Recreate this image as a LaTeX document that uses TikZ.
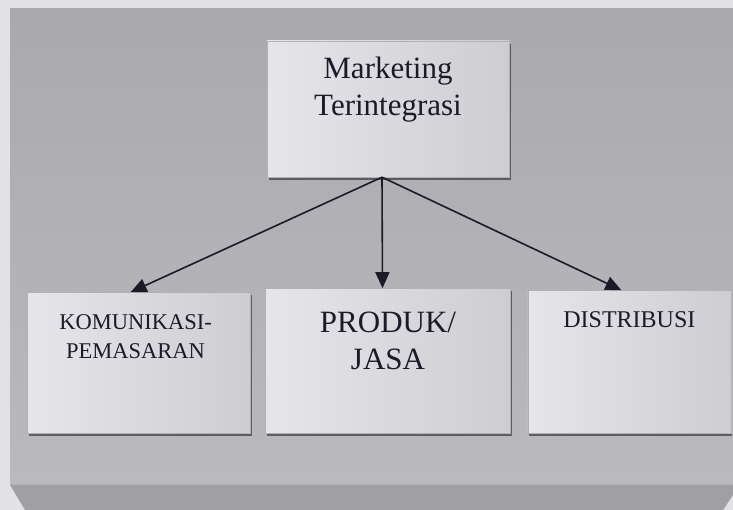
\documentclass[tikz,border=0pt]{standalone}
\usepackage{fontspec}
\setmainfont{Liberation Serif}
\usepackage{tikz}
\usetikzlibrary{arrows.meta, positioning, shadows, calc}
\definecolor{outerbg}{RGB}{226,226,230}
\definecolor{panelgray}{RGB}{186,186,190}
\definecolor{paneldark}{RGB}{170,170,174}
\definecolor{bevelgray}{RGB}{160,160,164}
\definecolor{boxlight}{RGB}{230,230,234}
\definecolor{boxdark}{RGB}{206,206,210}
\definecolor{inkblue}{RGB}{26,26,40}

\begin{document}
\begin{tikzpicture}[
    x=1pt, y=1pt,
    cardbox/.style  = {draw=gray!60, line width=0.4pt,
                       left color=boxlight, right color=boxdark,
                       drop shadow={shadow xshift=1.5pt, shadow yshift=-3pt,
                                    fill=black!75, opacity=0.75}},
    topbox/.style   = {cardbox, minimum width=242pt, minimum height=136pt},
    bigtext/.style  = {font=\fontsize{31}{37}\selectfont, text=inkblue,
                       align=center, inner sep=0pt},
    captext/.style  = {font=\fontsize{22.5}{29}\selectfont, text=inkblue,
                       align=center, inner sep=0pt},
    arr/.style      = {-{Triangle[length=16pt, width=14pt]}, line width=1.6pt, draw=inkblue},
]
\useasboundingbox (0,0) rectangle (733,510);

% Slide panel
\fill[outerbg] (0,0) rectangle (733,510);
\shade[top color=paneldark, bottom color=panelgray] (10,25) rectangle (733,501);
\fill[bevelgray] (10,25) -- (733,25) -- (733,15) -- (723,0) -- (25,0) -- cycle;

% Top box
\node[topbox] (MT) at (388,401) {};
\node[bigtext, below=16pt of MT.north] (MTtext) {Marketing\\Terintegrasi};

% Bottom boxes
\node[cardbox, minimum width=245pt, minimum height=145pt, below=111pt of MT] (PJ) {};
\node[cardbox, minimum width=223pt, minimum height=141pt, left=15pt of PJ, yshift=-2pt] (KP) {};
\node[cardbox, minimum width=203pt, minimum height=143pt, right=17pt of PJ, yshift=-1pt] (DS) {};

\node[captext, below=22pt of KP.north, xshift=-3pt] (KPtext) {KOMUNIKASI-\\PEMASARAN};
\node[bigtext, below=23.5pt of PJ.north] (PJtext) {PRODUK/\\JASA};
\node[captext, font=\fontsize{24}{29}\selectfont, below=21pt of DS.north] (DStext) {DISTRIBUSI};

% Arrows
\coordinate (hub) at ([xshift=-6pt]MT.south);
\draw[arr] (hub) -- ([xshift=-8pt]KP.north);
\draw[arr] (hub) -- ([xshift=-5.5pt]PJ.north);
\draw[arr] (hub) -- ([xshift=-8pt]DS.north);

\end{tikzpicture}
\end{document}
